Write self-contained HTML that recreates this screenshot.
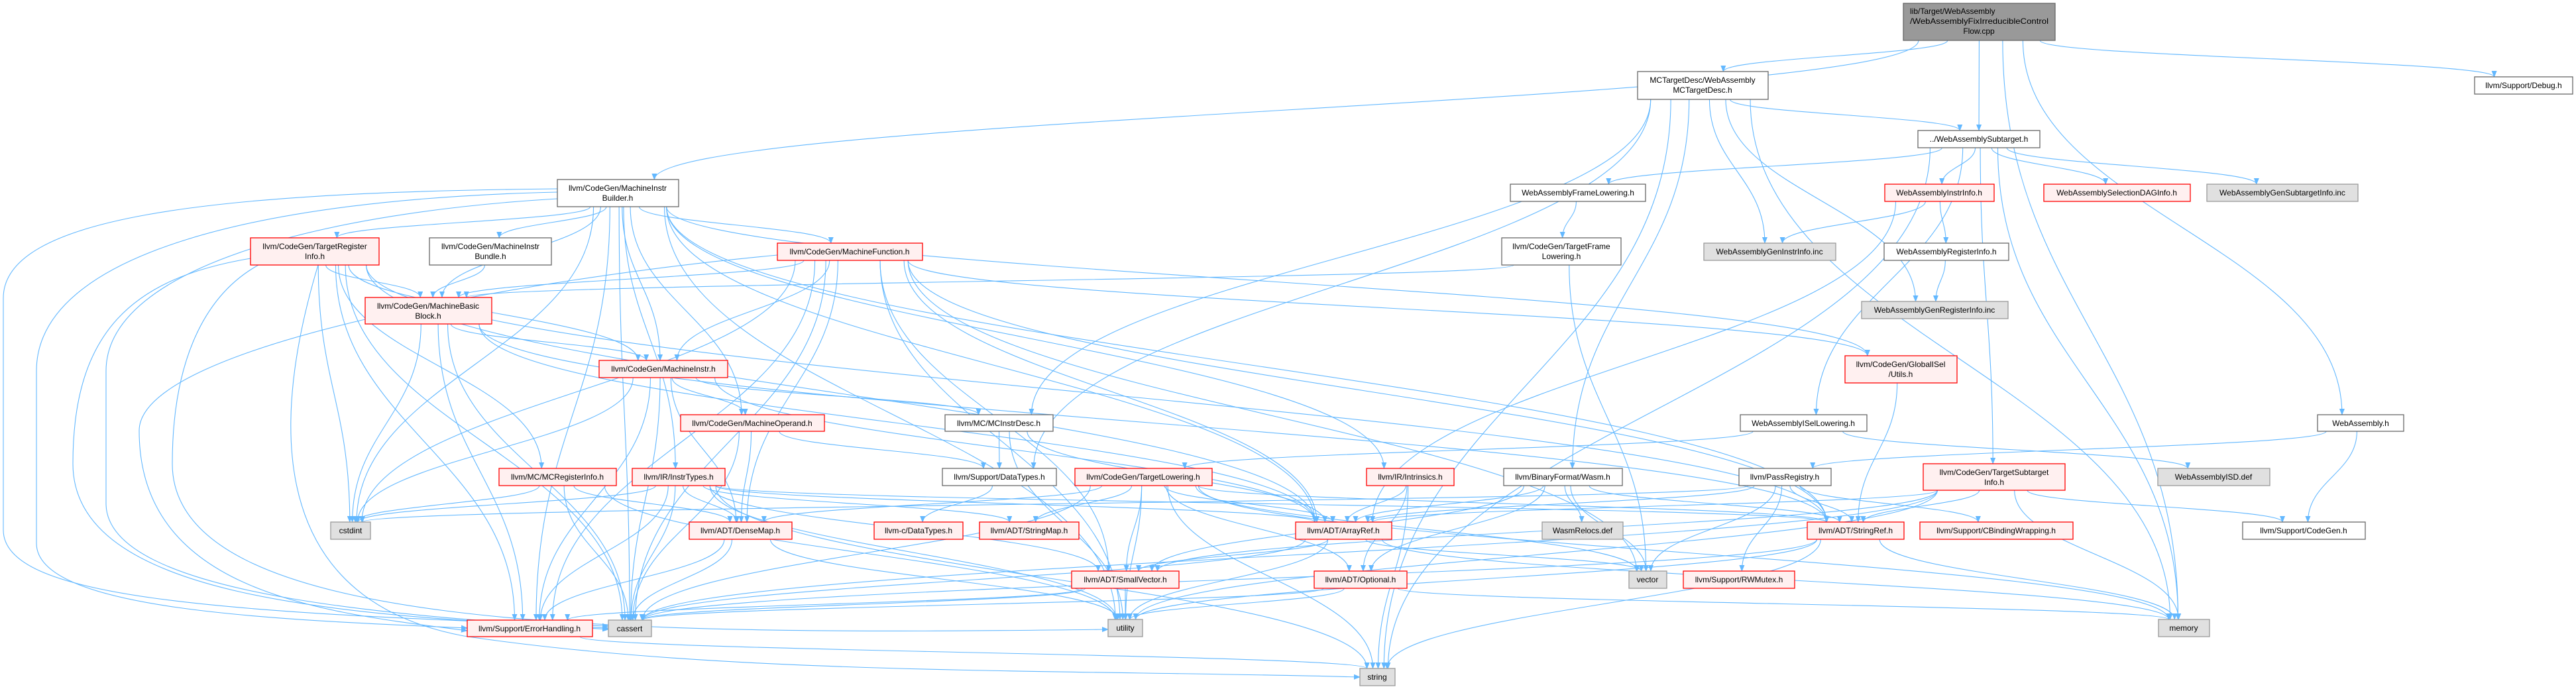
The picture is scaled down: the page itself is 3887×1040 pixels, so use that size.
<!DOCTYPE html>
<html><head><meta charset="utf-8">
<style>
html,body{margin:0;padding:0;background:#fff;}
svg{display:block;}
text{font-family:"Liberation Sans",Arial,sans-serif;font-size:12px;fill:#000;}
.w{fill:#fff;stroke:#666;stroke-width:1.3}
.r{fill:#fff0f0;stroke:#f00;stroke-width:1.3}
.g{fill:#e0e0e0;stroke:#999;stroke-width:1.3}
.m{fill:#999;stroke:#666;stroke-width:1.3}
#edges path,#extra path{fill:none;stroke:#63b8ff;stroke-width:1.1}
</style></head><body>
<svg id="s" width="3887" height="1040" viewBox="0 0 3887 1040" xmlns="http://www.w3.org/2000/svg">
<defs><marker id="a" markerWidth="10" markerHeight="8" refX="9" refY="4" orient="auto" markerUnits="userSpaceOnUse"><path d="M0,0 L10,4 L0,8 z" fill="#63b8ff"/></marker></defs>
<g id="extra">
<path d="M841,285 C300,290 5,330 5,450 L5,800 C5,900 300,925 918,945" marker-end="url(#a)"/>
<path d="M841,290 C400,300 55,380 55,560 L55,820 C55,920 400,935 705,948" marker-end="url(#a)"/>
<path d="M378,390 C200,420 110,500 110,700 C110,900 500,930 918,948" marker-end="url(#a)"/>
<path d="M841,300 C500,320 160,400 160,560 L160,760 C160,900 600,930 918,950" marker-end="url(#a)"/>
<path d="M1173,385 C800,420 210,520 210,650 C210,900 500,925 705,952" marker-end="url(#a)"/>
<path d="M390,400 C300,450 260,560 260,700 C260,950 900,960 1672,950" marker-end="url(#a)"/>
<path d="M480,400 C420,600 380,900 700,960 C1100,1020 1600,1010 2052,1022" marker-end="url(#a)"/>
</g>
<g id="edges"></g>
<g id="nodes">
<rect class="m" x="2872" y="5" width="229" height="56"/>
<text x="2882" y="21">lib/Target/WebAssembly</text>
<text x="2882" y="36" textLength="209" lengthAdjust="spacingAndGlyphs">/WebAssemblyFixIrreducibleControl</text>
<text x="2986" y="51" text-anchor="middle">Flow.cpp</text>

<rect class="w" x="2471" y="108" width="197" height="42"/>
<text x="2569" y="125" text-anchor="middle">MCTargetDesc/WebAssembly</text>
<text x="2569" y="140" text-anchor="middle">MCTargetDesc.h</text>

<rect class="w" x="3734" y="116" width="148" height="26"/><text x="3808" y="133" text-anchor="middle">llvm/Support/Debug.h</text>
<rect class="w" x="2894" y="197" width="184" height="26"/><text x="2986" y="214" text-anchor="middle">../WebAssemblySubtarget.h</text>

<rect class="w" x="841" y="271" width="183" height="41"/>
<text x="932" y="288" text-anchor="middle">llvm/CodeGen/MachineInstr</text>
<text x="932" y="303" text-anchor="middle">Builder.h</text>

<rect class="w" x="2279" y="278" width="204" height="26"/><text x="2381" y="295" text-anchor="middle">WebAssemblyFrameLowering.h</text>
<rect class="r" x="2844" y="278" width="165" height="26"/><text x="2926" y="295" text-anchor="middle">WebAssemblyInstrInfo.h</text>
<rect class="r" x="3084" y="278" width="221" height="26"/><text x="3194" y="295" text-anchor="middle">WebAssemblySelectionDAGInfo.h</text>
<rect class="g" x="3330" y="278" width="228" height="26"/><text x="3444" y="295" text-anchor="middle">WebAssemblyGenSubtargetInfo.inc</text>

<rect class="r" x="378" y="359" width="194" height="41"/>
<text x="475" y="376" text-anchor="middle">llvm/CodeGen/TargetRegister</text>
<text x="475" y="391" text-anchor="middle">Info.h</text>
<rect class="w" x="648" y="359" width="184" height="41"/>
<text x="740" y="376" text-anchor="middle">llvm/CodeGen/MachineInstr</text>
<text x="740" y="391" text-anchor="middle">Bundle.h</text>
<rect class="r" x="1173" y="367" width="219" height="26"/><text x="1282" y="384" text-anchor="middle">llvm/CodeGen/MachineFunction.h</text>
<rect class="w" x="2266" y="359" width="180" height="41"/>
<text x="2356" y="376" text-anchor="middle">llvm/CodeGen/TargetFrame</text>
<text x="2356" y="391" text-anchor="middle">Lowering.h</text>
<rect class="g" x="2571" y="367" width="199" height="26"/><text x="2670" y="384" text-anchor="middle">WebAssemblyGenInstrInfo.inc</text>
<rect class="w" x="2843" y="367" width="188" height="26"/><text x="2937" y="384" text-anchor="middle">WebAssemblyRegisterInfo.h</text>

<rect class="r" x="551" y="449" width="191" height="40"/>
<text x="646" y="466" text-anchor="middle">llvm/CodeGen/MachineBasic</text>
<text x="646" y="481" text-anchor="middle">Block.h</text>
<rect class="g" x="2809" y="455" width="221" height="26"/><text x="2919" y="472" text-anchor="middle">WebAssemblyGenRegisterInfo.inc</text>

<rect class="r" x="904" y="544" width="194" height="26"/><text x="1001" y="561" text-anchor="middle">llvm/CodeGen/MachineInstr.h</text>
<rect class="r" x="2784" y="537" width="169" height="41"/>
<text x="2868" y="554" text-anchor="middle">llvm/CodeGen/GlobalISel</text>
<text x="2868" y="569" text-anchor="middle">/Utils.h</text>

<rect class="r" x="1027" y="626" width="217" height="25"/><text x="1135" y="643" text-anchor="middle">llvm/CodeGen/MachineOperand.h</text>
<rect class="w" x="1426" y="626" width="163" height="25"/><text x="1507" y="643" text-anchor="middle">llvm/MC/MCInstrDesc.h</text>
<rect class="w" x="2626" y="626" width="191" height="25"/><text x="2721" y="643" text-anchor="middle">WebAssemblyISelLowering.h</text>
<rect class="w" x="3497" y="626" width="130" height="25"/><text x="3562" y="643" text-anchor="middle">WebAssembly.h</text>

<rect class="r" x="753" y="707" width="177" height="26"/><text x="841" y="724" text-anchor="middle">llvm/MC/MCRegisterInfo.h</text>
<rect class="r" x="954" y="707" width="140" height="26"/><text x="1024" y="724" text-anchor="middle">llvm/IR/InstrTypes.h</text>
<rect class="w" x="1422" y="707" width="172" height="26"/><text x="1508" y="724" text-anchor="middle">llvm/Support/DataTypes.h</text>
<rect class="r" x="1622" y="707" width="207" height="26"/><text x="1725" y="724" text-anchor="middle">llvm/CodeGen/TargetLowering.h</text>
<rect class="r" x="2062" y="707" width="132" height="26"/><text x="2128" y="724" text-anchor="middle">llvm/IR/Intrinsics.h</text>
<rect class="w" x="2269" y="707" width="179" height="26"/><text x="2358" y="724" text-anchor="middle">llvm/BinaryFormat/Wasm.h</text>
<rect class="w" x="2624" y="707" width="139" height="26"/><text x="2693" y="724" text-anchor="middle">llvm/PassRegistry.h</text>
<rect class="r" x="2902" y="700" width="214" height="40"/>
<text x="3009" y="717" text-anchor="middle">llvm/CodeGen/TargetSubtarget</text>
<text x="3009" y="732" text-anchor="middle">Info.h</text>
<rect class="g" x="3256" y="707" width="169" height="26"/><text x="3340" y="724" text-anchor="middle">WebAssemblyISD.def</text>

<rect class="g" x="499" y="788" width="60" height="26"/><text x="529" y="805" text-anchor="middle">cstdint</text>
<rect class="r" x="1040" y="788" width="155" height="26"/><text x="1117" y="805" text-anchor="middle">llvm/ADT/DenseMap.h</text>
<rect class="r" x="1319" y="788" width="134" height="26"/><text x="1386" y="805" text-anchor="middle">llvm-c/DataTypes.h</text>
<rect class="r" x="1478" y="788" width="150" height="26"/><text x="1553" y="805" text-anchor="middle">llvm/ADT/StringMap.h</text>
<rect class="r" x="1955" y="788" width="145" height="26"/><text x="2027" y="805" text-anchor="middle">llvm/ADT/ArrayRef.h</text>
<rect class="g" x="2327" y="788" width="122" height="26"/><text x="2388" y="805" text-anchor="middle">WasmRelocs.def</text>
<rect class="r" x="2727" y="788" width="146" height="26"/><text x="2800" y="805" text-anchor="middle">llvm/ADT/StringRef.h</text>
<rect class="r" x="2897" y="788" width="231" height="26"/><text x="3012" y="805" text-anchor="middle">llvm/Support/CBindingWrapping.h</text>
<rect class="w" x="3384" y="788" width="185" height="26"/><text x="3476" y="805" text-anchor="middle">llvm/Support/CodeGen.h</text>

<rect class="r" x="1617" y="862" width="162" height="26"/><text x="1698" y="879" text-anchor="middle">llvm/ADT/SmallVector.h</text>
<rect class="r" x="1983" y="862" width="140" height="26"/><text x="2053" y="879" text-anchor="middle">llvm/ADT/Optional.h</text>
<rect class="g" x="2458" y="862" width="57" height="26"/><text x="2486" y="879" text-anchor="middle">vector</text>
<rect class="r" x="2540" y="862" width="168" height="26"/><text x="2624" y="879" text-anchor="middle">llvm/Support/RWMutex.h</text>

<rect class="r" x="705" y="936" width="189" height="25"/><text x="799" y="953" text-anchor="middle">llvm/Support/ErrorHandling.h</text>
<rect class="g" x="918" y="936" width="65" height="25"/><text x="950" y="953" text-anchor="middle">cassert</text>
<rect class="g" x="1672" y="935" width="52" height="26"/><text x="1698" y="952" text-anchor="middle">utility</text>
<rect class="g" x="3257" y="935" width="77" height="26"/><text x="3295" y="952" text-anchor="middle">memory</text>
<rect class="g" x="2052" y="1009" width="53" height="26"/><text x="2078" y="1026" text-anchor="middle">string</text>
</g>
</svg>
<script>
var N={main:[2872,3101,5,61],MCTD:[2471,2668,108,150],DBG:[3734,3882,116,142],SUB:[2894,3078,197,223],
MIB:[841,1024,271,312],WFL:[2279,2483,278,304],WII:[2844,3009,278,304],WSD:[3084,3305,278,304],WGSI:[3330,3558,278,304],
TRI:[378,572,359,400],MIBU:[648,832,359,400],MF:[1173,1392,367,393],TFL:[2266,2446,359,400],WGII:[2571,2770,367,393],WRI:[2843,3031,367,393],
MBB:[551,742,449,489],WGRI:[2809,3030,455,481],MI:[904,1098,544,570],GIU:[2784,2953,537,578],MO:[1027,1244,626,651],MCID:[1426,1589,626,651],
WISL:[2626,2817,626,651],WA:[3497,3627,626,651],MCRI:[753,930,707,733],IT:[954,1094,707,733],SDT:[1422,1594,707,733],TL:[1622,1829,707,733],
INT:[2062,2194,707,733],WASM:[2269,2448,707,733],PR:[2624,2763,707,733],TSI:[2902,3116,700,740],WISD:[3256,3425,707,733],
CSTD:[499,559,788,814],DM:[1040,1195,788,814],CDT:[1319,1453,788,814],SM:[1478,1628,788,814],AR:[1955,2100,788,814],WR:[2327,2449,788,814],
SR:[2727,2873,788,814],CBW:[2897,3128,788,814],CG:[3384,3569,788,814],SV:[1617,1779,862,888],OPT:[1983,2123,862,888],VEC:[2458,2515,862,888],
RW:[2540,2708,862,888],EH:[705,894,936,961],CAS:[918,983,936,961],UT:[1672,1724,935,961],MEM:[3257,3334,935,961],STR:[2052,2105,1009,1035]};
var E="main MIB,main MCTD,main SUB,main DBG,main WA,main MEM,MCTD SUB,MCTD WGII,MCTD WGRI,MCTD MCID,MCTD SDT,MCTD WASM,MCTD MEM,MCTD STR,"+
"SUB WFL,SUB WII,SUB WSD,SUB WGSI,SUB WISL,SUB TSI,SUB STR,SUB MEM,WFL TFL,TFL MBB,TFL VEC,WII WGII,WII WRI,WII AR,WRI WGRI,"+
"MIB TRI,MIB MIBU,MIB MBB,MIB MF,MIB MI,MIB MO,MIB IT,MIB INT,MIB AR,MIB CSTD,MIB CAS,MIB EH,MIB GIU,MIB SR,MIB UT,MIBU MBB,"+
"TRI MBB,TRI MCRI,TRI CSTD,TRI CAS,TRI EH,TRI SR,TRI MI,TRI AR,MF MBB,MF MI,MF DM,MF AR,MF SV,MF UT,MF CAS,MF CSTD,MF VEC,MF SR,MF EH,MF GIU,"+
"MBB MI,MBB CSTD,MBB CAS,MBB EH,MBB AR,MBB SR,MI MO,MI MCID,MI CSTD,MI CAS,MI AR,MI DM,MI EH,MO SDT,MO DM,MO CAS,MCID SDT,MCID AR,MCID UT,"+
"MCRI CSTD,MCRI DM,MCRI CAS,MCRI UT,IT CSTD,IT DM,IT SM,IT SR,IT AR,IT CAS,IT SV,IT EH,IT STR,IT UT,SDT CDT,TL DM,TL SM,TL AR,TL SR,TL SV,TL OPT,TL UT,TL CAS,TL VEC,TL STR,TL MEM,"+
"INT AR,INT OPT,INT STR,WASM AR,WASM WR,WASM SR,WASM OPT,WASM SV,WASM VEC,PR SR,PR CBW,PR RW,PR VEC,PR AR,PR CSTD,TSI SR,TSI AR,TSI SV,TSI MEM,TSI CG,TSI UT,TSI CAS,"+
"WISL TL,WISL WISD,WA PR,WA CG,GIU SR,DM CAS,DM UT,DM EH,AR SV,AR CAS,AR VEC,AR MEM,AR UT,SV UT,SV CAS,SV EH,OPT UT,OPT CAS,OPT MEM,SR UT,SR STR,SR CAS,SR MEM,EH STR";
var g=document.getElementById('edges'),h='';
E.split(',').forEach(function(p){var q=p.split(' '),s=N[q[0]],t=N[q[1]];if(!s||!t)return;
var sc=(s[0]+s[1])/2,tc=(t[0]+t[1])/2,d;
if(t[2]>s[3]+5){var sx=sc+Math.max(-1,Math.min(1,(tc-sc)/800))*(s[1]-s[0])*0.4;var tx=tc+Math.max(-1,Math.min(1,(sc-tc)/800))*(t[1]-t[0])*0.3;
var y1=s[3],y2=t[2],dy=(y2-y1)*0.45;d='M'+sx+','+y1+' C'+sx+','+(y1+dy)+' '+tx+','+(y2-dy)+' '+tx+','+y2;}
else{var ym1=(s[2]+s[3])/2,ym2=(t[2]+t[3])/2;var x1,x2;if(tc>sc){x1=s[1];x2=t[0];}else{x1=s[0];x2=t[1];}
d='M'+x1+','+ym1+' C'+((x1+x2)/2)+','+ym1+' '+((x1+x2)/2)+','+ym2+' '+x2+','+ym2;}
h+='<path d="'+d+'" marker-end="url(#a)"/>';});
g.innerHTML=h;
</script>
</body></html>
